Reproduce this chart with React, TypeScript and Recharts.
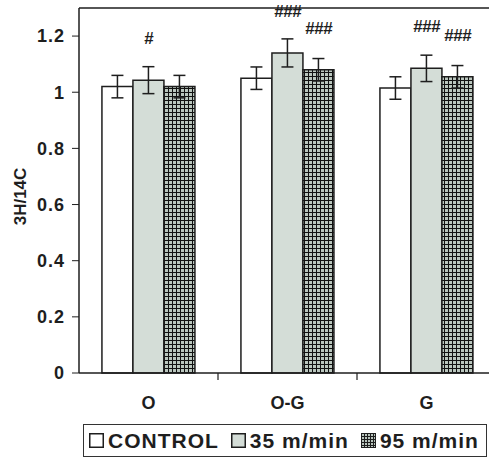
import React from 'react';
import { BarChart, Bar, XAxis, YAxis, ErrorBar, LabelList, Legend, ReferenceLine } from 'recharts';

const categories = ['O', 'O-G', 'G'];
const control = [1.02, 1.05, 1.015];
const controlErr = [0.04, 0.04, 0.04];
const speed35 = [1.043, 1.14, 1.085];
const speed35Err = [0.048, 0.05, 0.047];
const speed95 = [1.02, 1.08, 1.055];
const speed95Err = [0.04, 0.04, 0.04];
const marks35 = ['#', '###', '###'];
const marks95 = ['', '###', '###'];
const yTicks = [0, 0.2, 0.4, 0.6, 0.8, 1, 1.2];

const data = categories.map((name, i) => ({
  name,
  control: control[i],
  controlErr: controlErr[i],
  s35: speed35[i],
  s35Err: speed35Err[i],
  s95: speed95[i],
  s95Err: speed95Err[i],
  m35: marks35[i],
  m95: marks95[i],
}));

const ink = '#1e1e1e';
const font = '"Liberation Sans", Arial, sans-serif';
const greenGray = '#d4ddd7';

const fmtY = (v: number) => (v === 0 || v === 1 ? String(v) : v.toFixed(1));

const CatTick = (props: any) => {
  const { x, y, payload, index } = props;
  const half = payload && payload.offset ? payload.offset : 69.5;
  return (
    <g>
      {index < categories.length - 1 && (
        <line x1={x + half} x2={x + half} y1={y} y2={y + 7} stroke={ink} strokeWidth={1.2} />
      )}
      <text x={x} y={y + 36} textAnchor="middle" fontFamily={font} fontWeight="bold" fontSize={18} fill={ink}>
        {payload.value}
      </text>
    </g>
  );
};

const Mark = (props: any) => {
  const { x, y, width, value } = props;
  if (!value) return null;
  return (
    <text x={x + width / 2} y={y - 36} textAnchor="middle" fontFamily={font} fontWeight="bold" fontStyle="italic" fontSize={17} letterSpacing={-0.5} fill={ink}>
      {value}
    </text>
  );
};

const GridIcon = () => (
  <svg width={15} height={15} style={{ marginRight: 4 }}>
    <rect x={0.5} y={0.5} width={14} height={14} fill="#b9c5bd" stroke={ink} />
    {[3.5, 6.5, 9.5, 12.5].map((p) => (
      <g key={p}>
        <line x1={p} x2={p} y1={0} y2={15} stroke={ink} strokeWidth={1} />
        <line y1={p} y2={p} x1={0} x2={15} stroke={ink} strokeWidth={1} />
      </g>
    ))}
  </svg>
);

const BoxIcon = ({ fill }: { fill: string }) => (
  <svg width={15} height={15} style={{ marginRight: 4 }}>
    <rect x={0.75} y={0.75} width={13.5} height={13.5} fill={fill} stroke={ink} strokeWidth={1.5} />
  </svg>
);

const LegendBox = () => (
  <div
    style={{
      border: '1.5px solid #333',
      height: 33,
      display: 'flex',
      alignItems: 'center',
      paddingLeft: 5,
      fontFamily: font,
      fontWeight: 'bold',
      fontSize: 21,
      letterSpacing: 1,
      color: ink,
      boxSizing: 'border-box',
      background: '#fff',
      whiteSpace: 'nowrap',
    }}
  >
    <BoxIcon fill="#fff" />
    <span style={{ marginRight: 12 }}>CONTROL</span>
    <BoxIcon fill={greenGray} />
    <span style={{ marginRight: 12 }}>35 m/min</span>
    <GridIcon />
    <span>95 m/min</span>
  </div>
);

export default function App() {
  return (
    <div style={{ position: 'absolute', left: 0, top: 0, width: 489, height: 459, overflow: 'hidden', background: '#fff' }}>
      <BarChart
        width={510}
        height={459}
        data={data}
        margin={{ top: 8, right: 14, bottom: 0, left: 0 }}
        barGap={0}
        barCategoryGap="16.5%"
      >
        <defs>
          <pattern id="grid95" width={4} height={4} patternUnits="userSpaceOnUse">
            <rect width={4} height={4} fill="#bac6be" />
            <path d="M0 0.5 H4 M0.5 0 V4" stroke="#111" strokeWidth={1} />
          </pattern>
        </defs>
        <XAxis
          dataKey="name"
          height={53}
          tickLine={false}
          tickSize={0}
          tickMargin={0}
          axisLine={{ stroke: ink, strokeWidth: 1.5 }}
          tick={<CatTick />}
          interval={0}
        />
        <YAxis
          width={79}
          domain={[0, 1.3]}
          ticks={yTicks}
          tickFormatter={fmtY}
          tickSize={7}
          tickMargin={7}
          axisLine={{ stroke: ink, strokeWidth: 1.5 }}
          tickLine={{ stroke: ink }}
          tick={{ fontFamily: font, fontWeight: 'bold', fontSize: 18, fill: ink, letterSpacing: 1 }}
          label={(p: any) => {
            const vb = p.viewBox;
            const cx = vb.x + 20;
            const cy = vb.y + vb.height / 2 + 6;
            return (
              <text x={cx} y={cy} transform={`rotate(-90 ${cx} ${cy})`} textAnchor="middle" dominantBaseline="central" fontFamily={font} fontWeight="bold" fontSize={17} fill={ink}>
                3H/14C
              </text>
            );
          }}
        />
        <ReferenceLine y={1.3} stroke={ink} strokeWidth={1.5} />
        <Legend verticalAlign="bottom" wrapperStyle={{ left: 83, bottom: 2, width: 404 }} content={<LegendBox />} />
        <Bar dataKey="control" fill="#fff" stroke={ink} strokeWidth={1.5} isAnimationActive={false}>
          <ErrorBar dataKey="controlErr" width={6} stroke={ink} strokeWidth={1.5} />
        </Bar>
        <Bar dataKey="s35" fill={greenGray} stroke={ink} strokeWidth={1.5} isAnimationActive={false}>
          <ErrorBar dataKey="s35Err" width={6} stroke={ink} strokeWidth={1.5} />
          <LabelList dataKey="m35" content={<Mark />} />
        </Bar>
        <Bar dataKey="s95" fill="url(#grid95)" stroke={ink} strokeWidth={1.5} isAnimationActive={false}>
          <ErrorBar dataKey="s95Err" width={6} stroke={ink} strokeWidth={1.5} />
          <LabelList dataKey="m95" content={<Mark />} />
        </Bar>
      </BarChart>
    </div>
  );
}
